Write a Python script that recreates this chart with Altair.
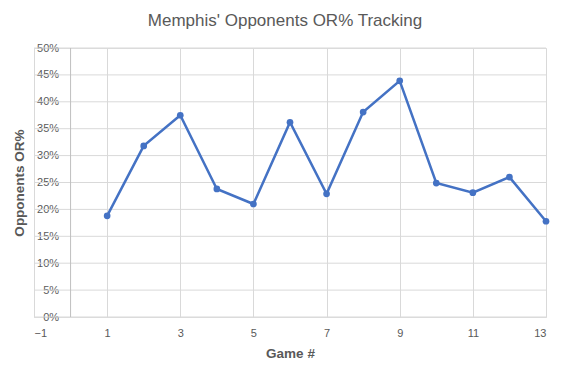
import altair as alt
import pandas as pd

games = [1, 2, 3, 4, 5, 6, 7, 8, 9, 10, 11, 12, 13]
or_pct = [0.188, 0.318, 0.375, 0.238, 0.210, 0.362, 0.229, 0.381, 0.439, 0.249, 0.231, 0.260, 0.178]
x_ticks = [-1, 1, 3, 5, 7, 9, 11, 13]
y_ticks = [0, 0.05, 0.10, 0.15, 0.20, 0.25, 0.30, 0.35, 0.40, 0.45, 0.50]
y_axis_at = [0]

df = pd.DataFrame({"game": games, "pct": or_pct})

W, H = 512, 269
FONT = "Liberation Sans"
GRAY = "#595959"

y_axis = alt.Axis(
    values=y_ticks,
    format=".0%",
    title="Opponents OR%",
    grid=False,
    domain=False,
    ticks=False,
    offset=-W / 14,
    labelPadding=12,
    labelFontSize=11,
    labelColor=GRAY,
    labelFont=FONT,
    titleFont=FONT,
    titleFontSize=13.5,
    titleFontWeight="bold",
    titleColor=GRAY,
    titleX=-51,
    titleY=H / 2,
    titleAngle=-90,
    titleAlign="center",
    titleBaseline="middle",
)
y_scale = alt.Scale(domain=[0, 0.5], nice=False)
x_scale = alt.Scale(domain=[-1, 13], nice=False, zero=False)
x_axis = alt.Axis(
    values=x_ticks,
    title="Game #",
    grid=True,
    gridColor="#d9d9d9",
    domain=False,
    ticks=False,
    labelPadding=10,
    labelFontSize=11,
    labelColor=GRAY,
    labelFont=FONT,
    titleFont=FONT,
    titleFontSize=13.5,
    titleFontWeight="bold",
    titleColor=GRAY,
    titlePadding=8,
)

base = alt.Chart(df).encode(
    x=alt.X("game:Q", scale=x_scale, axis=x_axis),
    y=alt.Y("pct:Q", scale=y_scale, axis=y_axis),
)

grid_y = alt.Chart(pd.DataFrame({"pct": y_ticks})).mark_rule(color="#d9d9d9", strokeWidth=1).encode(
    y=alt.Y("pct:Q", scale=y_scale, axis=y_axis)
)

axis_line = alt.Chart(pd.DataFrame({"game": y_axis_at})).mark_rule(
    color="#bfbfbf", strokeWidth=1
).encode(
    x=alt.X("game:Q", scale=x_scale, axis=x_axis),
)

line = base.mark_line(color="#4472C4", strokeWidth=2.5)
pts = base.mark_circle(color="#4472C4", size=45, opacity=1)

chart = alt.layer(grid_y, axis_line, line, pts).properties(
    width=W,
    height=H,
    autosize=alt.AutoSizeParams(type="none"),
    padding={"left": 26, "top": 40, "right": 12, "bottom": 55},
    title=alt.TitleParams(
        "Memphis' Opponents OR% Tracking",
        fontSize=17,
        font=FONT,
        fontWeight="normal",
        color=GRAY,
        anchor="middle",
        offset=12,
        dx=-5,
    ),
).configure_view(strokeWidth=0).configure(background="white")

chart.save("out.html", embed_options={"renderer": "svg", "actions": False})
